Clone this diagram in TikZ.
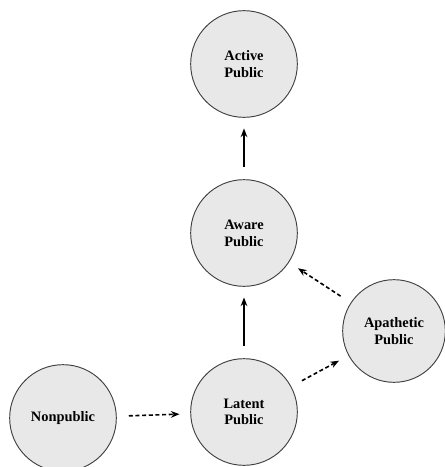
\documentclass[tikz,border=0pt]{standalone}
\usepackage{fontspec}
\setmainfont{Liberation Serif}
\usetikzlibrary{arrows.meta}
\begin{document}
\begin{tikzpicture}[x=0.75pt,y=-0.75pt,
  pub/.style={circle,draw=black!75,line width=0.7pt,fill=gray!18,minimum size=80pt,inner sep=0pt,align=center,font=\fontsize{10.8}{12.5}\selectfont\bfseries},
  solidarr/.style={-{Stealth[length=6.5pt,width=5pt]},line width=1pt,shorten <=9pt,shorten >=8pt},
  dasharr/.style={solidarr,line width=1.2pt,dash pattern=on 3pt off 2pt}]
\useasboundingbox (0,0) rectangle (445,467);
\node[pub] (active) at (244,64) {Active\\Public};
\node[pub] (aware) at (244,233) {Aware\\Public};
\node[pub] (latent) at (244,412) {Latent\\Public};
\node[pub] (non) at (63,418) {Nonpublic};
\node[pub,minimum size=77pt] (apa) at (394,331) {Apathetic\\Public};
\draw[solidarr] (aware) -- (active);
\draw[solidarr] (latent) -- (aware);
\draw[dasharr] (non) -- (latent);
\draw[dasharr] (latent) -- (apa);
\draw[dasharr] (apa) -- (aware);
\end{tikzpicture}
\end{document}
